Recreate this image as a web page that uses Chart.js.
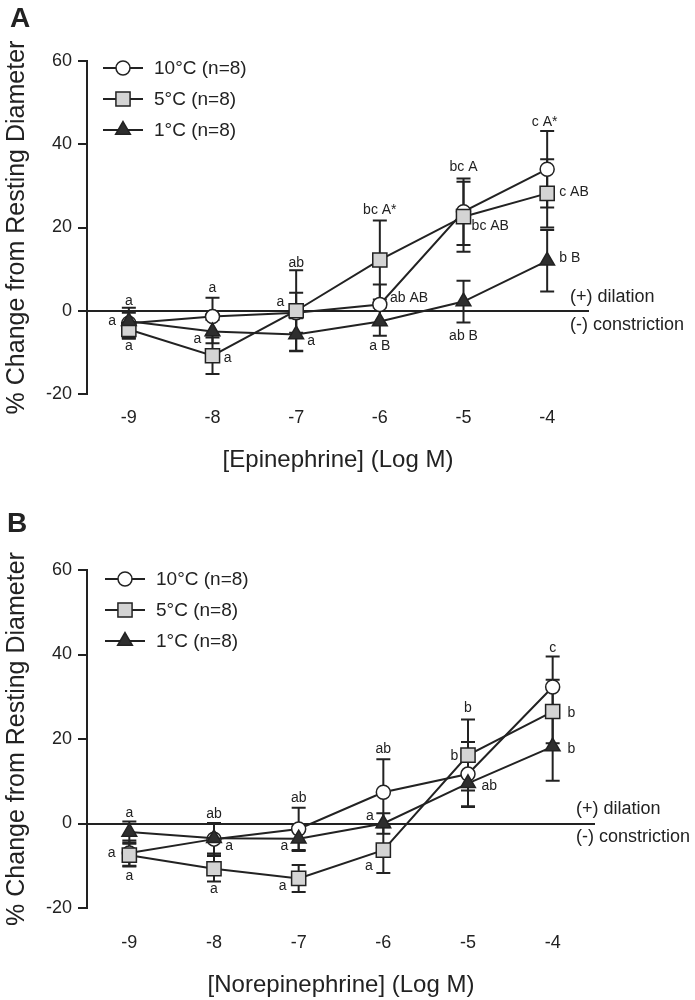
<!DOCTYPE html>
<html>
<head>
<meta charset="utf-8">
<script src="https://cdn.jsdelivr.net/npm/chart.js@4/dist/chart.umd.min.js"></script>
<style>
  body { margin: 0; background: #fff; }
  canvas { display: block; }
</style>
</head>
<body>
<canvas id="chartA" width="695" height="475"></canvas>
<canvas id="chartB" width="695" height="525"></canvas>
<script>
// shared axes
var logDoses = [-9, -8, -7, -6, -5, -4];
var yTickValues = [-20, 0, 20, 40, 60];
var seriesNames = ["10°C (n=8)", "5°C (n=8)", "1°C (n=8)"];

// panel A - epinephrine (mean, sem)
var epi10 = [-3.0, -1.4, -0.5, 1.5, 23.8, 34.0];
var epi10Err = [3.7, 4.5, 4.8, 4.8, 8.0, 9.2];
var epi5 = [-4.5, -10.8, 0.0, 12.2, 22.6, 28.2];
var epi5Err = [2.0, 4.4, 9.7, 9.5, 8.4, 8.2];
var epi1 = [-2.5, -5.0, -5.7, -2.6, 2.2, 12.0];
var epi1Err = [2.0, 2.8, 3.9, 3.4, 5.0, 7.4];

// panel B - norepinephrine (mean, sem)
var nor10 = [-7.0, -3.7, -1.3, 7.4, 11.7, 32.3];
var nor10Err = [3.0, 3.8, 5.0, 7.8, 7.6, 7.2];
var nor5 = [-7.5, -10.7, -13.0, -6.3, 16.2, 26.5];
var nor5Err = [2.7, 3.0, 3.2, 5.4, 8.4, 7.5];
var nor1 = [-2.0, -3.5, -3.6, 0.0, 9.5, 18.2];
var nor1Err = [2.5, 3.6, 2.9, 2.4, 5.6, 8.1];

// significance letters: [log dose, value, text]
var epiLetters = [
  [-9, 2.3, "a"], [-9.2, -2.4, "a"], [-9, -8.6, "a"],
  [-8, 5.4, "a"], [-8.18, -6.8, "a"], [-7.82, -11.3, "a"],
  [-7, 11.5, "ab"], [-7.19, 2.0, "a"], [-6.82, -7.4, "a"],
  [-6, 24.1, "bc A*"], [-5.65, 3.0, "ab AB"], [-6, -8.6, "a B"],
  [-5, 34.5, "bc A"], [-4.68, 20.3, "bc AB"], [-5, -6.2, "ab B"],
  [-4.03, 45.3, "c A*"], [-3.68, 28.5, "c AB"], [-3.73, 12.6, "b B"]
];
var norLetters = [
  [-9, 2.4, "a"], [-9.21, -7.0, "a"], [-9, -12.5, "a"],
  [-8, 2.2, "ab"], [-7.82, -5.4, "a"], [-8, -15.6, "a"],
  [-7, 5.9, "ab"], [-7.17, -5.4, "a"], [-7.19, -14.8, "a"],
  [-6, 17.6, "ab"], [-6.16, 1.7, "a"], [-6.17, -10.1, "a"],
  [-5, 27.2, "b"], [-5.16, 15.9, "b"], [-4.75, 8.8, "ab"],
  [-4, 41.4, "c"], [-3.78, 26.1, "b"], [-3.78, 17.6, "b"]
];

var ink = "#222";
var font = "'Liberation Sans', Arial, sans-serif";
var markers = [
  { pointStyle: "circle", radius: 7, fill: "#ffffff" },
  { pointStyle: "rect", radius: 10, fill: "#d4d4d4" },
  { pointStyle: "triangle", radius: 8.5, fill: "#2e2e2e" }
];

function drawMarker(ctx, m, x, y) {
  ctx.save();
  ctx.fillStyle = m.fill;
  ctx.strokeStyle = ink;
  ctx.lineWidth = 1.5;
  ctx.beginPath();
  if (m.pointStyle === "circle") {
    ctx.arc(x, y, m.radius, 0, Math.PI * 2);
  } else if (m.pointStyle === "rect") {
    var s = m.radius * Math.SQRT1_2;
    ctx.rect(x - s, y - s, 2 * s, 2 * s);
  } else {
    var r = m.radius;
    ctx.moveTo(x, y - r);
    ctx.lineTo(x + r * Math.sin(2 * Math.PI / 3), y + r / 2);
    ctx.lineTo(x - r * Math.sin(2 * Math.PI / 3), y + r / 2);
    ctx.closePath();
  }
  ctx.fill();
  ctx.stroke();
  ctx.restore();
}

var errorBars = {
  id: "errorBars",
  beforeDatasetsDraw: function(chart) {
    var ctx = chart.ctx, xs = chart.scales.x, ys = chart.scales.y;
    var errs = chart.options.plugins.panel.errs;
    ctx.save();
    ctx.strokeStyle = ink;
    ctx.lineWidth = 2;
    chart.data.datasets.forEach(function(ds, i) {
      ds.data.forEach(function(p, j) {
        var x = xs.getPixelForValue(p.x);
        var top = ys.getPixelForValue(p.y + errs[i][j]);
        var bot = ys.getPixelForValue(p.y - errs[i][j]);
        ctx.beginPath();
        ctx.moveTo(x, top); ctx.lineTo(x, bot);
        ctx.moveTo(x - 7, top); ctx.lineTo(x + 7, top);
        ctx.moveTo(x - 7, bot); ctx.lineTo(x + 7, bot);
        ctx.stroke();
      });
    });
    ctx.restore();
  }
};

var panelDecor = {
  id: "panel",
  afterDraw: function(chart, args, opts) {
    var ctx = chart.ctx, xs = chart.scales.x, ys = chart.scales.y, area = chart.chartArea;
    ctx.save();
    ctx.fillStyle = ink;
    ctx.textBaseline = "middle";

    // letters
    ctx.font = "14px " + font;
    ctx.textAlign = "center";
    opts.letters.forEach(function(l) {
      ctx.fillText(l[2], xs.getPixelForValue(l[0]), ys.getPixelForValue(l[1]));
    });

    // dilation / constriction
    var y0 = ys.getPixelForValue(0);
    ctx.font = "18px " + font;
    ctx.textAlign = "left";
    ctx.fillText("(+) dilation", area.right - 19, y0 - 14);
    ctx.fillText("(-) constriction", area.right - 19, y0 + 14);

    // legend
    ctx.font = "19px " + font;
    seriesNames.forEach(function(name, i) {
      var y = area.top + opts.legendDy + i * 31;
      var x0 = area.left + opts.legendDx;
      ctx.strokeStyle = ink;
      ctx.lineWidth = 2;
      ctx.beginPath();
      ctx.moveTo(x0, y); ctx.lineTo(x0 + 40, y);
      ctx.stroke();
      drawMarker(ctx, markers[i], x0 + 20, y);
      ctx.fillStyle = ink;
      ctx.fillText(name, x0 + 51, y + 1);
    });

    // panel letter
    ctx.font = "bold 28px " + font;
    ctx.fillText(opts.tag, opts.tagX, opts.tagY);
    ctx.restore();
  }
};

function makePanel(id, values, errs, letters, title, tag, geo) {
  var datasets = values.map(function(vals, i) {
    return {
      label: seriesNames[i],
      data: logDoses.map(function(x, j) { return { x: x, y: vals[j] }; }),
      borderColor: ink,
      borderWidth: 2,
      pointStyle: markers[i].pointStyle,
      pointRadius: markers[i].radius,
      pointHoverRadius: markers[i].radius,
      pointBackgroundColor: markers[i].fill,
      pointBorderColor: ink,
      pointBorderWidth: 1.5,
      order: 3 - i
    };
  });
  return new Chart(document.getElementById(id), {
    type: "line",
    data: { datasets: datasets },
    plugins: [errorBars, panelDecor],
    options: {
      responsive: false,
      animation: false,
      devicePixelRatio: 1,
      layout: { padding: { top: geo.top, right: geo.right, bottom: 0, left: 0 } },
      plugins: {
        legend: { display: false },
        tooltip: { enabled: false },
        panel: { errs: errs, letters: letters, tag: tag, tagX: geo.tagX, tagY: geo.tagY,
                 legendDx: geo.legendDx, legendDy: geo.legendDy }
      },
      scales: {
        x: {
          type: "linear",
          min: -9.5,
          max: -3.5,
          afterBuildTicks: function(s) { s.ticks = logDoses.map(function(v) { return { value: v }; }); },
          afterFit: function(s) { s.height = geo.xHeight; },
          grid: { display: false, drawTicks: false },
          border: { display: false },
          ticks: { color: ink, font: { family: font, size: 18 }, padding: geo.tickPad, maxRotation: 0 },
          title: { display: true, text: title, color: ink, font: { family: font, size: 24 }, padding: { top: 0, bottom: 0 } }
        },
        y: {
          min: -20,
          max: 60,
          afterBuildTicks: function(s) { s.ticks = yTickValues.map(function(v) { return { value: v }; }); },
          afterFit: function(s) { s.width = 87; },
          grid: {
            color: function(c) { return c.tick && c.tick.value === 0 ? ink : "rgba(0,0,0,0)"; },
            lineWidth: 2,
            tickColor: ink,
            tickLength: 9,
            drawTicks: true
          },
          border: { display: true, color: ink, width: 2 },
          ticks: { color: ink, font: { family: font, size: 18 }, padding: 6 },
          title: { display: true, text: "% Change from Resting Diameter", color: ink,
                   font: { family: font, size: 25 }, padding: { top: 2, bottom: 0 } }
        }
      }
    }
  });
}

makePanel("chartA", [epi10, epi5, epi1], [epi10Err, epi5Err, epi1Err], epiLetters,
  "[Epinephrine] (Log M)", "A",
  { top: 61, right: 106, xHeight: 81, tickPad: 13, tagX: 10, tagY: 19, legendDx: 16, legendDy: 7 });

makePanel("chartB", [nor10, nor5, nor1], [nor10Err, nor5Err, nor1Err], norLetters,
  "[Norepinephrine] (Log M)", "B",
  { top: 95, right: 100, xHeight: 92, tickPad: 24, tagX: 7, tagY: 49, legendDx: 18, legendDy: 9 });
</script>
</body>
</html>
